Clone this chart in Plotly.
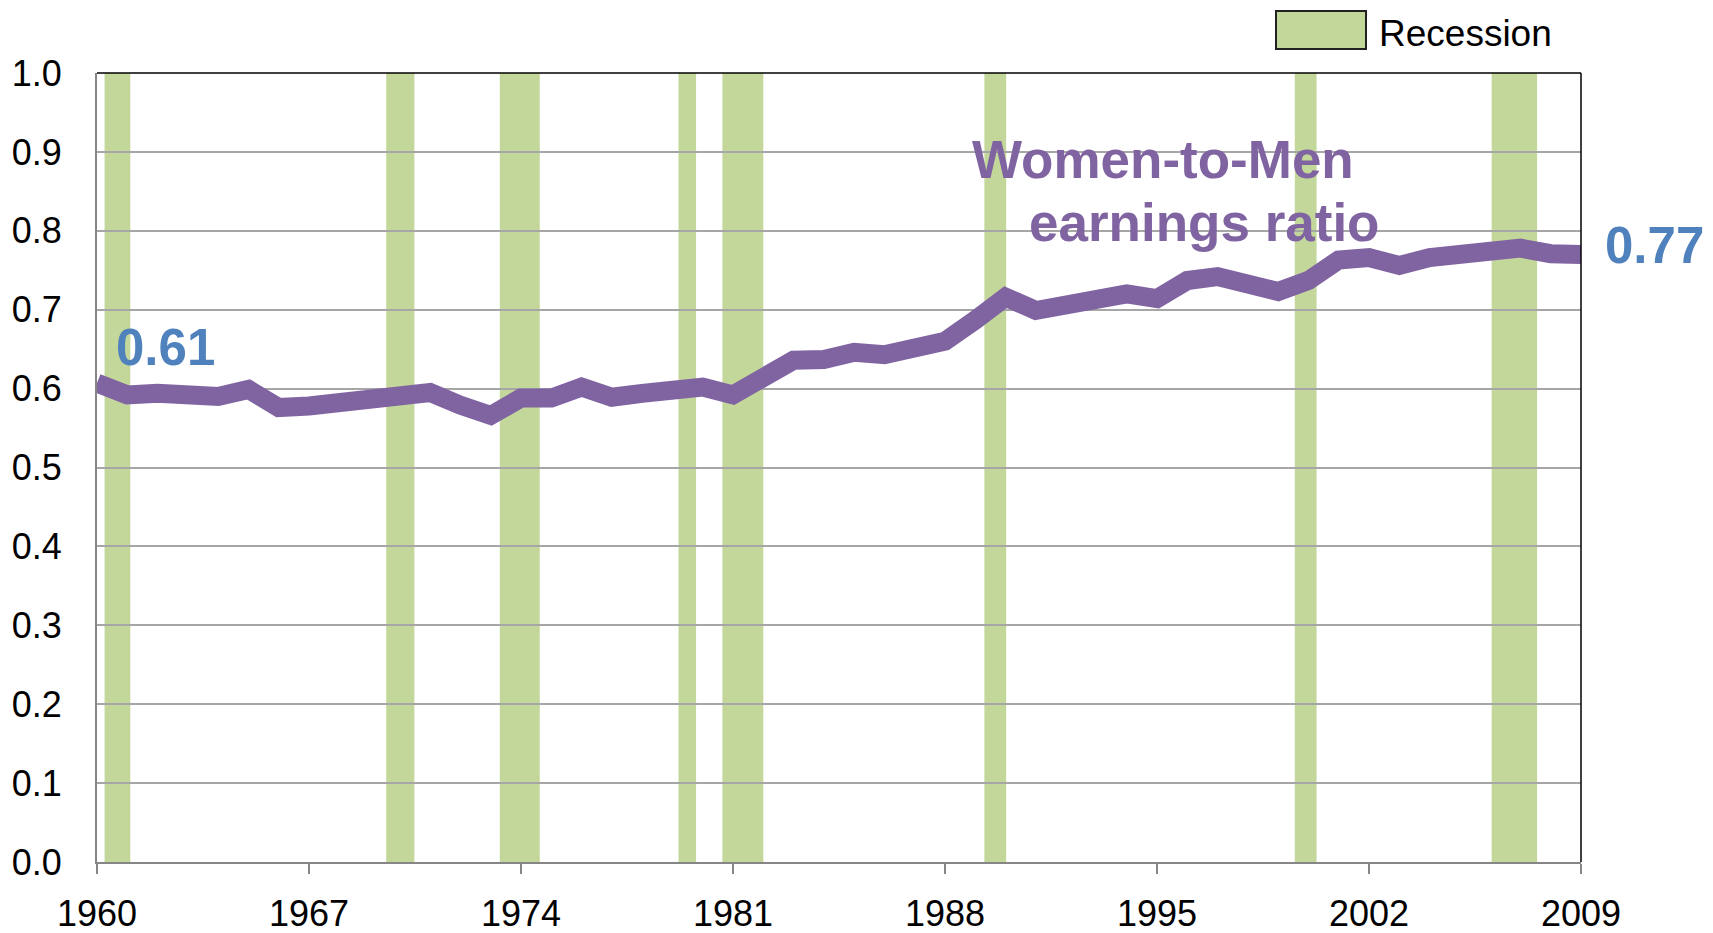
import plotly.graph_objects as go

# Women-to-men earnings ratio, 1960-2009
years = list(range(1960, 2010))
ratio = [
    0.607, 0.592, 0.594, 0.589, 0.590, 0.599, 0.576, 0.578, 0.582, 0.589,
    0.594, 0.595, 0.579, 0.566, 0.588, 0.588, 0.602, 0.589, 0.594, 0.597,
    0.602, 0.592, 0.617, 0.636, 0.637, 0.646, 0.643, 0.652, 0.660, 0.687,
    0.716, 0.699, 0.708, 0.715, 0.720, 0.714, 0.737, 0.742, 0.732, 0.723,
    0.737, 0.763, 0.766, 0.756, 0.766, 0.770, 0.769, 0.778, 0.771, 0.770,
]

# recession bands as drawn (decimal years)
rec_start = [1960.25, 1969.55, 1973.3, 1979.2, 1980.65, 1989.3, 1999.55, 2006.05]
rec_end = [1961.1, 1970.48, 1974.62, 1979.78, 1982.0, 1990.02, 2000.27, 2007.55]

xticks = list(range(1960, 2010, 7))
yticks = [round(i * 0.1, 1) for i in range(11)]

PURPLE = "#8064A2"
BLUE = "#4F81BD"
GREEN = "#C4D79B"
AXIS = "#868686"
GRID = "#A6A6A6"
FONT = "Liberation Sans, Arial, sans-serif"

# plot area in pixels: left 97, right 1581, top 73, bottom 862
L, R, T, B = 97, 1581, 73, 862
PW, PH = R - L, B - T

fig = go.Figure()

fig.add_trace(
    go.Scatter(
        x=years,
        y=ratio,
        mode="lines",
        line=dict(color=PURPLE, width=19),
        showlegend=False,
        hoverinfo="skip",
    )
)

shapes = []
for x0, x1 in zip(rec_start, rec_end):
    shapes.append(
        dict(type="rect", xref="x", yref="paper", x0=x0, x1=x1, y0=0, y1=1,
             fillcolor=GREEN, line=dict(width=0), layer="below")
    )
# top and right border in black
shapes.append(dict(type="line", xref="paper", yref="paper", x0=0, x1=1, y0=1, y1=1,
                   line=dict(color="black", width=1.5)))
shapes.append(dict(type="line", xref="paper", yref="paper", x0=1, x1=1, y0=0, y1=1,
                   line=dict(color="black", width=1.5)))
# legend swatch
shapes.append(dict(type="rect", xref="paper", yref="paper",
                   x0=(1276 - L) / PW, x1=(1366 - L) / PW,
                   y0=(B - 49) / PH, y1=(B - 11) / PH,
                   fillcolor=GREEN, line=dict(color="#222222", width=2)))

annotations = [
    dict(text="0.61", x=1962.27, y=0.652, xref="x", yref="y", showarrow=False,
         xanchor="center", yanchor="middle",
         font=dict(family=FONT, size=51, color=BLUE, weight="bold")),
    dict(text="0.77", x=1, y=0.781, xref="paper", yref="y", xanchor="left", yanchor="middle",
         xshift=22, showarrow=False,
         font=dict(family=FONT, size=51, color=BLUE, weight="bold")),
    dict(text="Women-to-Men", x=1995.19, y=0.891, xref="x", yref="y", showarrow=False,
         xanchor="center", yanchor="middle",
         font=dict(family=FONT, size=53, color=PURPLE, weight="bold")),
    dict(text="earnings ratio", x=1996.56, y=0.810, xref="x", yref="y", showarrow=False,
         xanchor="center", yanchor="middle",
         font=dict(family=FONT, size=53, color=PURPLE, weight="bold")),
    dict(text="Recession", x=(1377 - L) / PW, y=(B - 33) / PH, xref="paper", yref="paper",
         xanchor="left", yanchor="middle", showarrow=False,
         font=dict(family=FONT, size=37, color="black")),
]

fig.update_layout(
    width=1713,
    height=933,
    paper_bgcolor="white",
    plot_bgcolor="white",
    margin=dict(l=L, r=1713 - R, t=T, b=933 - B),
    font=dict(family=FONT, color="black"),
    shapes=shapes,
    annotations=annotations,
    xaxis=dict(
        range=[1960, 2009],
        tickvals=xticks,
        ticktext=[str(t) for t in xticks],
        showgrid=False,
        zeroline=False,
        showline=True,
        linecolor=AXIS,
        linewidth=2,
        ticks="outside",
        ticklen=10,
        tickwidth=2,
        tickcolor=AXIS,
        ticklabelstandoff=9,
        tickfont=dict(size=36, color="black"),
        automargin=False,
    ),
    yaxis=dict(
        range=[0, 1],
        tickvals=yticks,
        ticktext=[f"{t:.1f}" for t in yticks],
        showgrid=True,
        gridcolor=GRID,
        gridwidth=2,
        zeroline=False,
        showline=True,
        linecolor=AXIS,
        linewidth=2,
        ticks="",
        ticklabelstandoff=26,
        tickfont=dict(size=36, color="black"),
        automargin=False,
    ),
)

fig.write_html(
    "out.html",
    config={"displayModeBar": False},
    post_script="document.body.style.margin='0';document.body.style.padding='0';",
)
